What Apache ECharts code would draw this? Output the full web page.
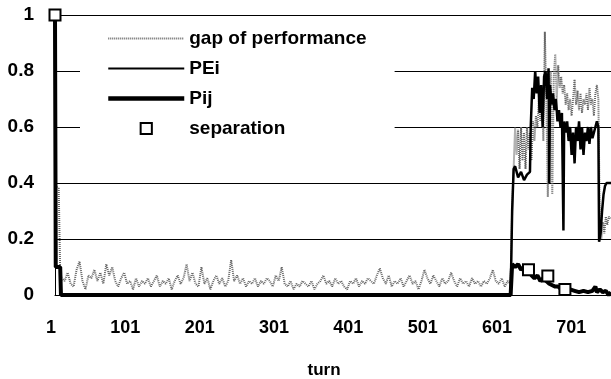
<!DOCTYPE html>
<html><head><meta charset="utf-8">
<script src="https://cdn.jsdelivr.net/npm/echarts@6/dist/echarts.min.js"></script>
<style>html,body{margin:0;padding:0;background:#fff}#c{width:611px;height:379px}</style>
</head><body><div id="c"></div>
<script>
var seriesNames = ['gap of performance', 'PEi', 'Pij', 'separation'];
var xTickLabels = [1, 101, 201, 301, 401, 501, 601, 701];
var yTickLabels = [0, 0.2, 0.4, 0.6, 0.8, 1];

var gapData = [[1,0.39],[6,0.38],[8,0.08],[10,0.06],[14,0.05],[18,0.08],[22,0.04],[26,0.03],[30,0.09],[34,0.12],[38,0.05],[42,0.02],[46,0.07],[50,0.06],[54,0.09],[58,0.05],[62,0.08],[66,0.04],[70,0.11],[74,0.07],[78,0.1],[82,0.05],[86,0.03],[90,0.06],[94,0.08],[98,0.04],[102,0.05],[106,0.02],[110,0.06],[114,0.03],[118,0.05],[122,0.04],[126,0.06],[130,0.03],[134,0.05],[138,0.07],[142,0.03],[146,0.05],[150,0.04],[154,0.06],[158,0.02],[162,0.05],[166,0.07],[170,0.04],[174,0.06],[178,0.11],[182,0.05],[186,0.08],[190,0.04],[194,0.03],[198,0.1],[202,0.04],[206,0.06],[210,0.02],[214,0.05],[218,0.07],[222,0.04],[226,0.06],[230,0.03],[234,0.05],[238,0.125],[242,0.05],[246,0.07],[250,0.04],[254,0.06],[258,0.03],[262,0.05],[266,0.04],[270,0.06],[274,0.03],[278,0.05],[282,0.04],[286,0.06],[290,0.05],[294,0.03],[298,0.07],[302,0.05],[306,0.1],[310,0.04],[314,0.03],[318,0.05],[322,0.02],[326,0.04],[330,0.03],[334,0.05],[338,0.04],[342,0.03],[346,0.05],[350,0.02],[354,0.04],[358,0.05],[362,0.07],[366,0.04],[370,0.05],[374,0.03],[378,0.06],[382,0.04],[386,0.05],[390,0.03],[394,0.02],[398,0.05],[402,0.04],[406,0.06],[410,0.03],[414,0.05],[418,0.04],[422,0.06],[426,0.05],[430,0.04],[434,0.07],[438,0.095],[442,0.06],[446,0.04],[450,0.07],[454,0.03],[458,0.05],[462,0.04],[466,0.06],[470,0.03],[474,0.05],[478,0.07],[482,0.04],[486,0.05],[490,0.02],[494,0.05],[498,0.09],[502,0.06],[506,0.04],[510,0.07],[514,0.05],[518,0.03],[522,0.06],[526,0.04],[530,0.05],[534,0.08],[538,0.05],[542,0.03],[546,0.06],[550,0.04],[554,0.05],[558,0.03],[562,0.06],[566,0.04],[570,0.05],[574,0.03],[578,0.05],[582,0.04],[586,0.06],[590,0.09],[594,0.05],[598,0.04],[602,0.06],[606,0.03],[610,0.05],[614,0.04],[616,0.3],[618,0.45],[620,0.6],[622,0.5],[624,0.59],[626,0.45],[628,0.6],[630,0.48],[632,0.58],[634,0.45],[636,0.6],[638,0.52],[640,0.58],[642,0.48],[644,0.62],[646,0.55],[648,0.64],[650,0.6],[652,0.7],[654,0.62],[656,0.75],[658,0.55],[660,0.94],[662,0.7],[664,0.35],[666,0.72],[668,0.8],[670,0.36],[672,0.78],[674,0.86],[676,0.7],[678,0.82],[680,0.74],[682,0.78],[684,0.72],[686,0.75],[688,0.68],[690,0.72],[692,0.66],[694,0.7],[696,0.64],[698,0.7],[700,0.77],[702,0.68],[704,0.73],[706,0.66],[708,0.72],[710,0.65],[712,0.7],[714,0.68],[716,0.72],[718,0.66],[720,0.74],[722,0.68],[724,0.7],[726,0.64],[728,0.72],[730,0.75],[732,0.7],[734,0.26],[736,0.2],[738,0.26],[740,0.22],[742,0.28],[744,0.25],[746,0.28],[749,0.27]];

var peiData = [[1,1],[2,0.1],[8,0.1],[9,0],[614,0],[616,0.3],[618,0.45],[620,0.46],[624,0.42],[628,0.44],[632,0.41],[636,0.43],[640,0.44],[641,0.6],[643,0.74],[645,0.7],[647,0.8],[649,0.72],[651,0.78],[653,0.65],[655,0.75],[657,0.6],[659,0.78],[661,0.8],[663,0.7],[665,0.81],[666,0.4],[667,0.75],[669,0.68],[671,0.72],[673,0.66],[675,0.7],[677,0.62],[679,0.66],[681,0.6],[683,0.65],[685,0.23],[686,0.62],[688,0.58],[690,0.62],[692,0.55],[694,0.6],[696,0.5],[698,0.58],[700,0.47],[702,0.6],[704,0.55],[706,0.62],[708,0.52],[710,0.6],[712,0.5],[714,0.58],[716,0.55],[718,0.6],[720,0.54],[722,0.6],[724,0.56],[726,0.58],[728,0.6],[730,0.62],[732,0.6],[733,0.19],[735,0.22],[737,0.3],[739,0.36],[741,0.39],[743,0.4],[749,0.4]];

var pijData = [[1,1],[2,0.1],[8,0.1],[9,0],[614,0],[616,0.11],[620,0.1],[624,0.11],[628,0.09],[632,0.1],[636,0.1],[640,0.09],[642,0.07],[646,0.06],[650,0.07],[654,0.05],[658,0.06],[662,0.05],[666,0.04],[670,0.035],[674,0.03],[678,0.03],[682,0.02],[686,0.02],[690,0.015],[694,0.02],[700,0.015],[706,0.01],[712,0.015],[718,0.01],[724,0.015],[728,0.03],[730,0.01],[734,0.02],[738,0.01],[742,0.015],[746,0],[749,0.01]];

var sepData = [[1,1],[638,0.09],[664,0.068],[687,0.02]];

var FONT = "'Liberation Sans', Arial, sans-serif";
var chart = echarts.init(document.getElementById('c'), null, {renderer: 'canvas'});
chart.setOption({
  animation: false,
  backgroundColor: '#fff',
  grid: {left: 55, right: 0, top: 15, bottom: 84, containLabel: false, outerBoundsMode: 'none'},
  legend: {
    orient: 'vertical', left: 80, top: 21,
    padding: [8, 28, 8, 26],
    backgroundColor: '#fff',
    itemWidth: 76, itemHeight: 14, itemGap: 11,
    textStyle: {fontFamily: FONT, fontSize: 19, fontWeight: 'bold', color: '#000'},
    data: [
      {name: seriesNames[0], itemStyle: {opacity: 0}, lineStyle: {width: 2}},
      {name: seriesNames[1], itemStyle: {opacity: 0}, lineStyle: {width: 2}},
      {name: seriesNames[2], itemStyle: {opacity: 0}, lineStyle: {width: 4.5}},
      {name: seriesNames[3]}
    ]
  },
  xAxis: {
    type: 'value', min: 1, max: 749, interval: 100,
    axisLine: {show: true, lineStyle: {color: '#000', width: 1}},
    axisTick: {show: false},
    splitLine: {show: false},
    axisLabel: {
      margin: 24, fontFamily: FONT, fontSize: 18, fontWeight: 'bold', color: '#000',
      showMaxLabel: false, padding: [0, 8, 0, 0],
      formatter: function (v) { return xTickLabels.indexOf(v) >= 0 ? String(v) : ''; }
    },
    name: 'turn', nameLocation: 'middle', nameGap: 67,
    nameTextStyle: {fontFamily: FONT, fontSize: 17, fontWeight: 'bold', color: '#000', padding: [0, 18, 0, 0]}
  },
  yAxis: {
    type: 'value', min: 0, max: 1, interval: 0.2,
    axisLine: {show: true, lineStyle: {color: '#000', width: 1}},
    axisTick: {show: false},
    splitLine: {show: true, lineStyle: {color: '#000', width: 1}},
    axisLabel: {
      margin: 21, fontFamily: FONT, fontSize: 19, fontWeight: 'bold', color: '#000',
      padding: [5, 0, 0, 0],
      formatter: function (v) {
        var i = yTickLabels.indexOf(Math.round(v * 10) / 10);
        return String(yTickLabels[i]);
      }
    }
  },
  series: [
    {name: seriesNames[0], type: 'line', data: gapData, symbol: 'none', z: 2,
     lineStyle: {color: '#666', width: 2, type: [1, 1]}, itemStyle: {color: '#666'}},
    {name: seriesNames[1], type: 'line', data: peiData, symbol: 'none', z: 3,
     lineStyle: {color: '#000', width: 2.5}, itemStyle: {color: '#000'}},
    {name: seriesNames[2], type: 'line', data: pijData, symbol: 'none', z: 4,
     lineStyle: {color: '#000', width: 4}, itemStyle: {color: '#000'}},
    {name: seriesNames[3], type: 'line', data: sepData, symbol: 'rect', symbolSize: 11, z: 5,
     lineStyle: {opacity: 0, width: 0}, itemStyle: {color: '#fff', borderColor: '#000', borderWidth: 2}}
  ]
});
</script></body></html>
